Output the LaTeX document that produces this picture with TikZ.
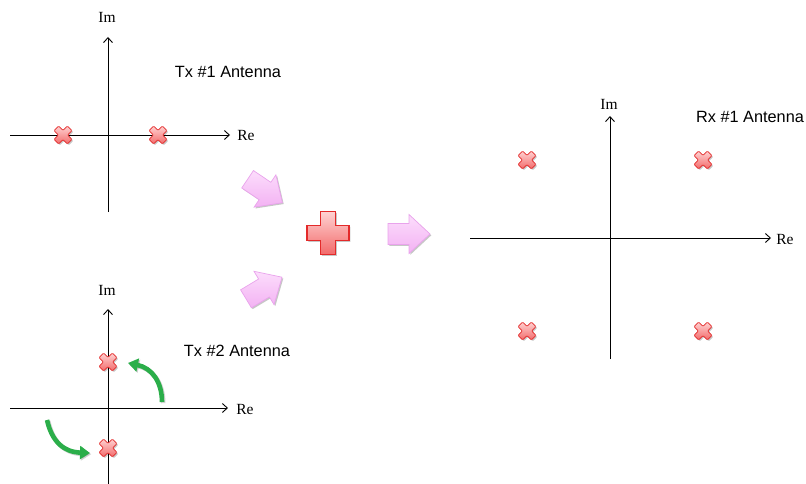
\documentclass[tikz,border=0pt]{standalone}
\usepackage{fontspec}
\setmainfont{Liberation Serif}
\newfontfamily\labelfont{Liberation Sans}
\usetikzlibrary{arrows.meta,shadows}

\definecolor{markedge}{HTML}{E32A2A}
\definecolor{marktop}{HTML}{FFD2D2}
\definecolor{markbot}{HTML}{F26A6A}
\definecolor{pinkedge}{HTML}{E9A3EC}
\definecolor{pinktop}{HTML}{FCDDFC}
\definecolor{pinkbot}{HTML}{F3B2F3}
\definecolor{turngreen}{HTML}{2BAE4A}

\tikzset{
  axis/.style={line width=0.9pt,-{Straight Barb[length=5pt,width=9pt,line width=0.9pt]}},
  axlabel/.style={font=\fontsize{15.5}{16}\selectfont, inner sep=0pt},
  antlabel/.style={font=\labelfont\fontsize{16.3}{17}\selectfont, inner sep=0pt},
  softshadow/.style={drop shadow={shadow xshift=1.3pt, shadow yshift=-1.3pt, fill=black, opacity=0.22}},
  markstyle/.style={draw=markedge, line width=0.8pt, top color=marktop, bottom color=markbot,
    rounded corners=1pt, softshadow},
  plusstyle/.style={draw=markedge, line width=1.1pt, top color=marktop, bottom color=markbot,
    softshadow},
  blockstyle/.style={draw=pinkedge, line width=0.7pt, top color=pinktop, bottom color=pinkbot,
    softshadow},
  turn/.style={line width=4.6pt, draw=turngreen, -{Triangle[length=10pt,width=13pt]}},
  turnshade/.style={line width=4.6pt, draw=black, opacity=0.18, -{Triangle[length=10pt,width=13pt]}},
  % constellation point
  cmark/.pic={
    \path[markstyle] (0,4.6) -- (4.4,9) -- (9,4.4) -- (4.6,0) -- (9,-4.4) -- (4.4,-9)
      -- (0,-4.6) -- (-4.4,-9) -- (-9,-4.4) -- (-4.6,0) -- (-9,4.4) -- (-4.4,9) -- cycle;
  },
  % summing symbol
  sumplus/.pic={
    \path[plusstyle] (-7.5,-21.5) -- (7.5,-21.5) -- (7.5,-7.5) -- (21,-7.5) -- (21,7.5)
      -- (7.5,7.5) -- (7.5,21.5) -- (-7.5,21.5) -- (-7.5,7.5) -- (-21,7.5) -- (-21,-7.5)
      -- (-7.5,-7.5) -- cycle;
  },
  % flow arrow
  blockarrow/.pic={
    \path[blockstyle] (-21,-10.5) -- (0,-10.5) -- (0,-19.5) -- (21,0) -- (0,19.5)
      -- (0,10.5) -- (-21,10.5) -- cycle;
  },
}

\begin{document}
\begin{tikzpicture}[x=1pt,y=-1pt]
\useasboundingbox (0,0) rectangle (806,484);

% ---- Tx #1 constellation ----
\coordinate (t1w) at (10,135);
\coordinate (t1e) at (230,135);
\coordinate (t1s) at (108,212);
\coordinate (t1n) at (108,37);
\draw[axis] (t1w) -- (t1e);
\draw[axis] (t1s) -- (t1n);
\node[axlabel] (t1im) at (107,17) {Im};
\node[axlabel] (t1re) at (246,136) {Re};
\node[antlabel] (t1name) at (228,72) {Tx \#1 Antenna};
\pic at (63,135) {cmark};
\pic at (158,135) {cmark};

% ---- Tx #2 constellation ----
\coordinate (t2w) at (10,408);
\coordinate (t2e) at (228,408);
\coordinate (t2s) at (108,484);
\coordinate (t2n) at (108,309);
\draw[axis] (t2w) -- (t2e);
\draw[axis] (t2s) -- (t2n);
\node[axlabel] (t2im) at (107,290) {Im};
\node[axlabel] (t2re) at (245,409) {Re};
\node[antlabel] (t2name) at (237,351) {Tx \#2 Antenna};
\pic at (108,362) {cmark};
\pic at (108,448) {cmark};

% rotation of the Tx #2 points
\coordinate (rotAs) at (162,402);
\coordinate (rotAe) at (128,363);
\coordinate (rotBs) at (47,420);
\coordinate (rotBe) at (90,453);
\begin{scope}[transform canvas={xshift=1.2pt,yshift=-1.2pt}]
  \draw[turnshade] (rotAs) .. controls (162,382) and (152,368) .. (rotAe);
  \draw[turnshade] (rotBs) .. controls (52,442) and (64,452) .. (rotBe);
\end{scope}
\draw[turn] (rotAs) .. controls (162,382) and (152,368) .. (rotAe);
\draw[turn] (rotBs) .. controls (52,442) and (64,452) .. (rotBe);

% ---- combining ----
\pic[rotate=-34] at (265,191) {blockarrow};
\pic[rotate=31] at (264,288) {blockarrow};
\pic at (328,233) {sumplus};
\pic at (409,234) {blockarrow};

% ---- Rx #1 constellation ----
\coordinate (rxw) at (470,238);
\coordinate (rxe) at (771,238);
\coordinate (rxs) at (610,359);
\coordinate (rxn) at (610,116);
\draw[axis] (rxw) -- (rxe);
\draw[axis] (rxs) -- (rxn);
\node[axlabel] (rxim) at (609,104) {Im};
\node[axlabel] (rxre) at (785,240) {Re};
\node[antlabel] (rxname) at (750,117) {Rx \#1 Antenna};
\pic at (527,160) {cmark};
\pic at (703,160) {cmark};
\pic at (527,331) {cmark};
\pic at (703,331) {cmark};
\end{tikzpicture}
\end{document}
